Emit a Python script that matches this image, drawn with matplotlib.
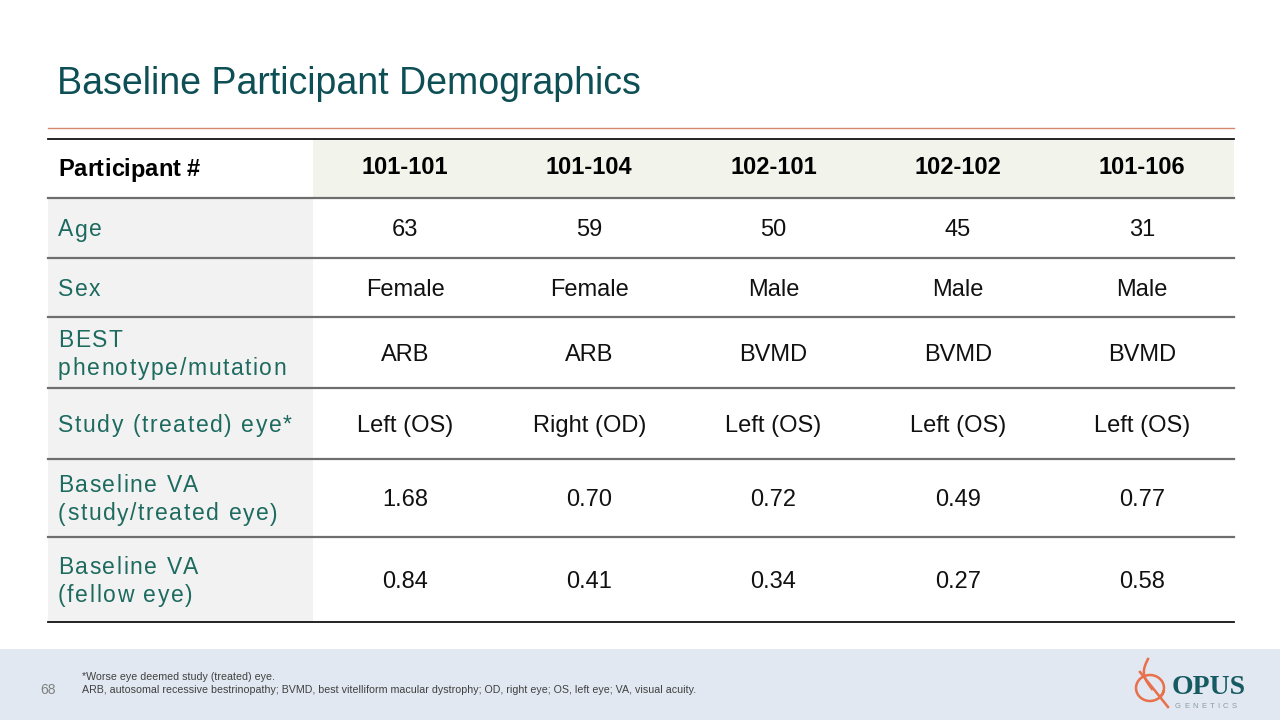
import matplotlib
matplotlib.use('Agg')
import matplotlib.pyplot as plt
from matplotlib.patches import Rectangle
from matplotlib.font_manager import FontProperties
import numpy as np

title = 'Baseline Participant Demographics'
participants = ['101-101', '101-104', '102-101', '102-102', '101-106']
row_labels = ['Age', 'Sex', 'BEST\nphenotype/mutation', 'Study (treated) eye*',
              'Baseline VA\n(study/treated eye)', 'Baseline VA\n(fellow eye)']
ages = [63, 59, 50, 45, 31]
sexes = ['Female', 'Female', 'Male', 'Male', 'Male']
phenotypes = ['ARB', 'ARB', 'BVMD', 'BVMD', 'BVMD']
study_eye = ['Left (OS)', 'Right (OD)', 'Left (OS)', 'Left (OS)', 'Left (OS)']
va_study = [1.68, 0.70, 0.72, 0.49, 0.77]
va_fellow = [0.84, 0.41, 0.34, 0.27, 0.58]
footnotes = ['*Worse eye deemed study (treated) eye.',
             'ARB, autosomal recessive bestrinopathy; BVMD, best vitelliform macular dystrophy; '
             'OD, right eye; OS, left eye; VA, visual acuity.']
page_no = '68'

FONT = 'Liberation Sans'
TEAL = '#0d4f55'
LABEL_C = '#1d6a5f'

fig = plt.figure(figsize=(12.8, 7.2), dpi=100)
ax = fig.add_axes([0, 0, 1, 1])
ax.set_xlim(0, 1280)
ax.set_ylim(720, 0)
ax.axis('off')
renderer = fig.canvas.get_renderer()


def text_w(s, fp):
    w, h, d = renderer.get_text_width_height_descent(s + '|', fp, ismath=False)
    w0, h0, d0 = renderer.get_text_width_height_descent('|', fp, ismath=False)
    return w - w0


def tracked(x, y, s, size, color, track=0.0, weight='normal', family=FONT):
    # draw text char by char to get letter spacing like the slide
    fp = FontProperties(family=family, size=size, weight=weight)
    for i, ch in enumerate(s):
        if ch == ' ':
            continue
        xi = x + text_w(s[:i], fp) + i * track
        ax.text(xi, y, ch, fontproperties=fp, color=color, ha='left', va='baseline')


# title + rule
ax.text(57, 84, title, fontsize=27, family=FONT, color=TEAL, ha='left', va='center')
ax.plot([48, 1234], [128, 128], color='#d4876b', lw=1.0)

# table geometry
x_left, x_lab, x_right = 48, 313, 1234
col_w = (x_right - x_lab) / len(participants)
col_c = [x_lab + col_w * (i + 0.5) for i in range(len(participants))]
row_edges = [139, 198, 258, 317, 388, 459, 537, 622]

# backgrounds
ax.add_patch(Rectangle((x_lab, row_edges[0]), x_right - x_lab, row_edges[1] - row_edges[0],
                       facecolor='#f2f4ec', edgecolor='none'))
ax.add_patch(Rectangle((x_left, row_edges[1]), x_lab - x_left, row_edges[-1] - row_edges[1],
                       facecolor='#f2f2f2', edgecolor='none'))

# horizontal rules
for k, y in enumerate(row_edges):
    if k == 0 or k == len(row_edges) - 1:
        ax.plot([x_left, x_right], [y, y], color='#111111', lw=1.3)
    else:
        ax.plot([x_left, x_right], [y, y], color='#6e6e6e', lw=1.6)

# header
tracked(58, 168 + 8.5, 'Participant #', 17, '#000000', weight='bold')
for c, p in zip(col_c, participants):
    ax.text(c, 168, p, fontsize=17, weight='bold', family=FONT, color='#000000',
            ha='center', va='center')

# body
values = [ages, sexes, phenotypes, study_eye,
          ['%.2f' % v for v in va_study], ['%.2f' % v for v in va_fellow]]
for r, (lab, vals) in enumerate(zip(row_labels, values)):
    yc = (row_edges[r + 1] + row_edges[r + 2]) / 2
    lines = lab.split('\n')
    n = len(lines)
    for j, line in enumerate(lines):
        yl = yc + (j - (n - 1) / 2) * 28 + 8.5
        tracked(58, yl, line, 16.5, LABEL_C, track=1.6)
    for c, v in zip(col_c, vals):
        ax.text(c, yc + 8.5, str(v), fontsize=17, family=FONT, color='#111111',
                ha='center', va='baseline')

# footer band
ax.add_patch(Rectangle((0, 649), 1280, 71, facecolor='#e1e8f1', edgecolor='none'))
ax.text(40, 690, page_no, fontsize=10, family=FONT, color='#808080', ha='left', va='center')
ax.text(82, 677, footnotes[0], fontsize=7.7, family=FONT, color='#404040', ha='left', va='center')
ax.text(82, 690, footnotes[1], fontsize=7.7, family=FONT, color='#404040', ha='left', va='center')

# logo
t = np.linspace(0, 1, 100)
ax.plot(1148 - 6 * np.sin(t * np.pi) + 4 * t, 659 + 30 * t, color='#e8704a', lw=1.8)
th = np.linspace(0.3, 2 * np.pi + 0.6, 200)
ax.plot(1150 + 14 * np.cos(th), 688 + 13 * np.sin(th), color='#e8704a', lw=1.8)
ax.plot([1140, 1168], [672, 707], color='#e8704a', lw=1.8)
ax.text(1172, 688, 'OPUS', fontsize=20, family='Liberation Serif', weight='bold',
        color='#165a62', ha='left', va='center')
tracked(1175, 708, 'GENETICS', 5.5, '#8a9aa0', track=3.2)

fig.savefig('out.png', dpi=100)
